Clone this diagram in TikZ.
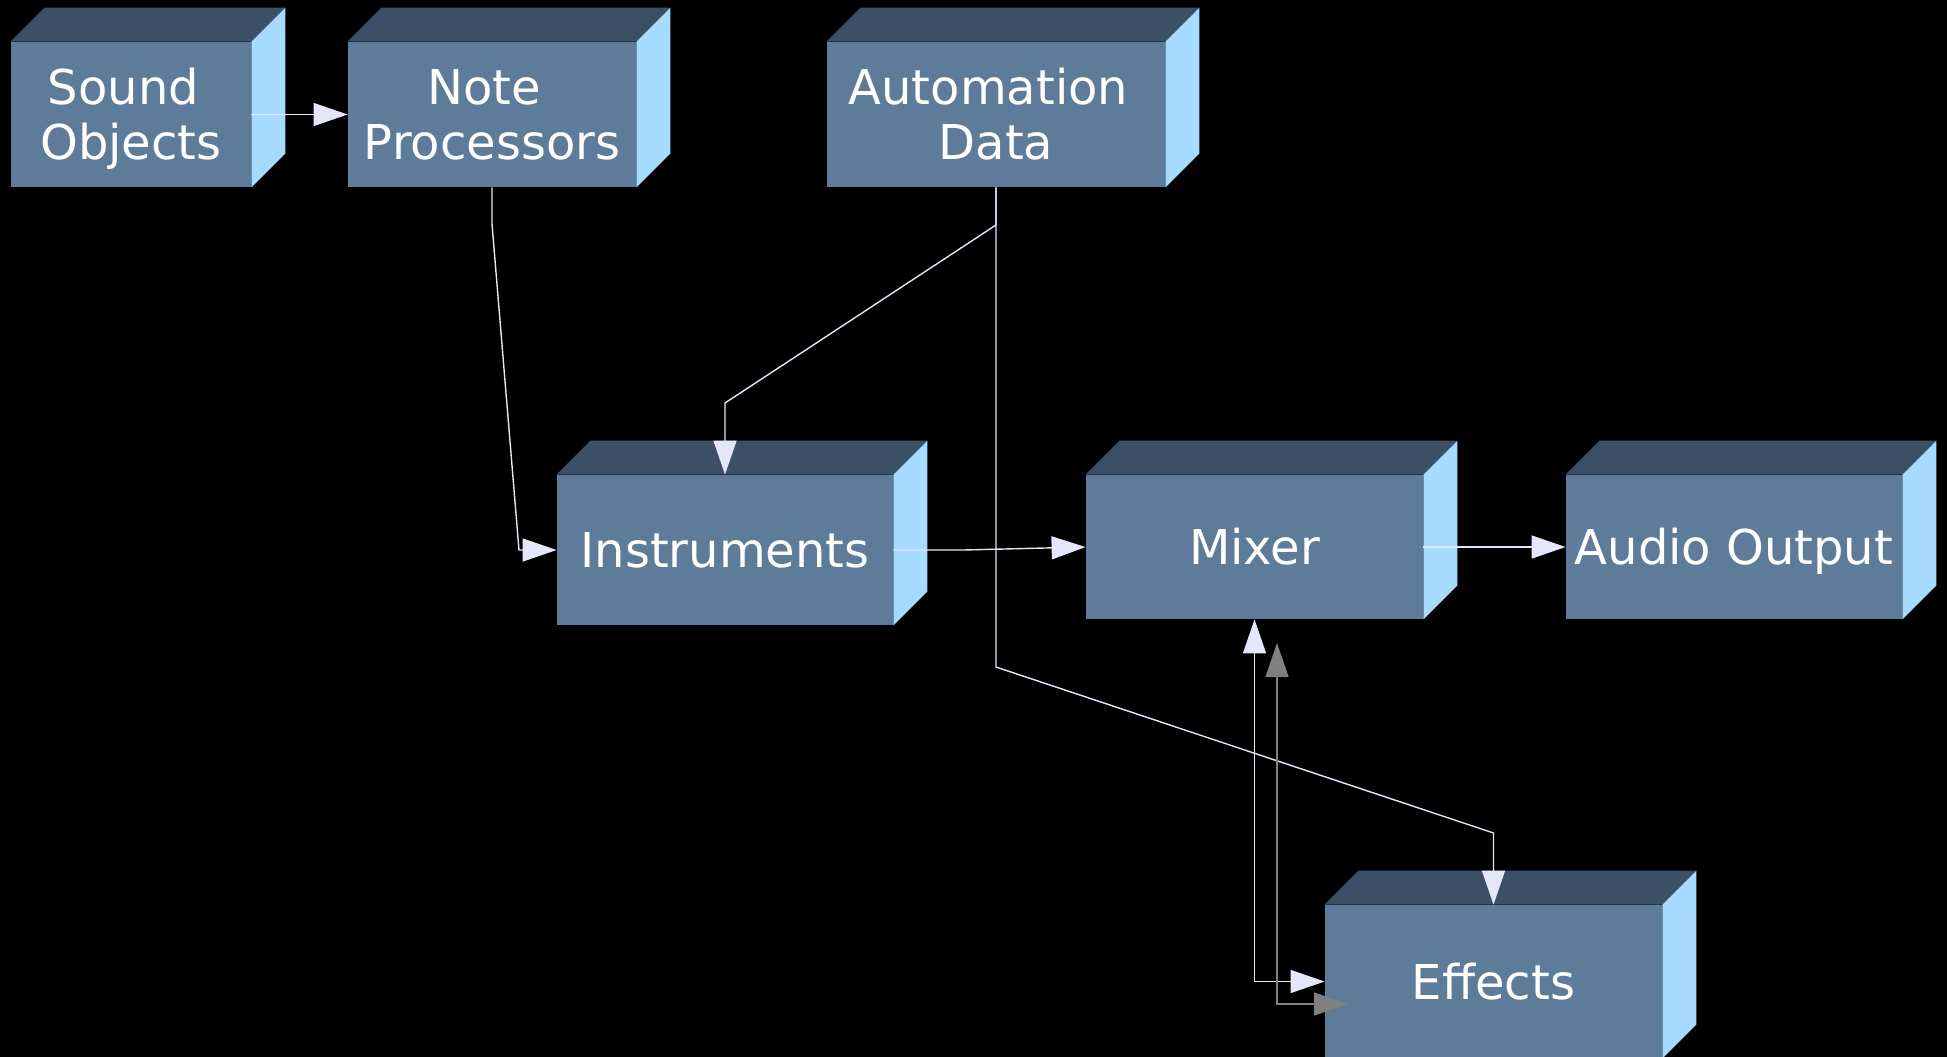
\documentclass[tikz,border=0pt]{standalone}
\usepackage{fontspec}
\setmainfont{DejaVu Sans}
\usetikzlibrary{arrows.meta}
\definecolor{frontc}{RGB}{94,124,154}
\definecolor{topc}{RGB}{59,80,102}
\definecolor{sidec}{RGB}{166,218,255}
\definecolor{lav}{RGB}{230,230,250}
\definecolor{grayc}{RGB}{128,128,128}
\newcommand\trsp{\hphantom{\ }}
\newcommand\boxthreed[7]{%
  \node[frontface, minimum width=#4pt, minimum height=#5pt, #6] (#1) at (#2,#3) {#7};
  \fill[topc] (#1.north west) -- ++(17pt,17pt) -- ([shift={(17pt,17pt)}]#1.north east) -- (#1.north east) -- cycle;
  \fill[sidec] (#1.north east) -- ++(17pt,17pt) -- ([shift={(17pt,17pt)}]#1.south east) -- (#1.south east) -- cycle;
}
\begin{document}
\begin{tikzpicture}[x=0.5pt,y=-0.5pt,
  frontface/.style={fill=frontc, text=white, inner sep=0pt, align=center,
    font=\fontsize{24pt}{27.5pt}\selectfont, text height=17.5pt, text depth=0pt},
  twoline/.style={text height=45pt, text depth=0pt},
  link/.style={draw=lav, line width=0.7pt, -{Triangle[length=17pt,width=11.5pt]}},
  glink/.style={draw=grayc, line width=0.7pt, {Triangle[length=17pt,width=11.5pt]}-{Triangle[length=17pt,width=11.5pt]}},
  blink/.style={draw=lav, line width=0.7pt, {Triangle[length=17pt,width=11.5pt]}-{Triangle[length=17pt,width=11.5pt]}}]
\useasboundingbox (0,0) rectangle (1947,1056);
\fill[black] (-10,-10) rectangle (1957,1066);

\boxthreed{so}{131}{114.5}{120}{72.5}{twoline}{Sound\trsp\\Objects}
\boxthreed{np}{492}{114.5}{144}{72.5}{twoline}{Note\trsp\\Processors}
\boxthreed{ad}{996}{114.5}{169}{72.5}{twoline}{Automation\trsp\\Data}
\boxthreed{inst}{725}{550}{168}{75}{}{Instruments}
\boxthreed{mix}{1254.5}{547}{168.5}{72}{}{Mixer}
\boxthreed{ao}{1734}{547}{168}{72}{}{Audio Output}
\boxthreed{fx}{1493.5}{981.5}{168.5}{76.5}{}{Effects}

\coordinate (gtop) at (1277,643);
\coordinate (gright) at (1348,1004);

\draw[link] (so.east) -- (np.west);
\draw[link] (np.south) -- (492,224) -- (519,550) -- (inst.west);
\draw[link] (ad.south) -- (996,225) -- (725,403) -- (inst.north);
\draw[link] (ad.south) -- (996,667) -- (1493.5,833) -- (fx.north);
\draw[link] (inst.east) -- (963,550) -- (mix.west);
\draw[link] (mix.east) -- (ao.west);
\draw[blink] (mix.south) |- (fx.west);
\draw[glink] (gtop) |- (gright);
\end{tikzpicture}
\end{document}
